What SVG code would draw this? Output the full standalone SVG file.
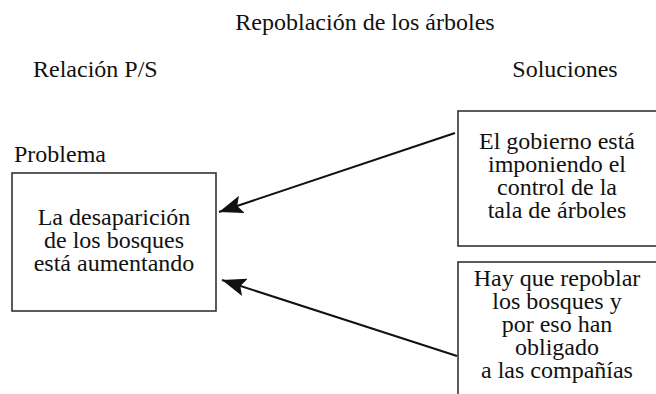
<svg xmlns="http://www.w3.org/2000/svg" width="656" height="394" viewBox="0 0 656 394">
<defs>
<style>
text{font-family:'Liberation Serif',serif;font-size:24px;fill:#111;}
.c{text-anchor:middle;}
.box{fill:none;stroke:#333;stroke-width:1.6;}
.conn{stroke:#111;stroke-width:2;fill:none;}
</style>
<marker id="ah" viewBox="0 0 10 10" refX="10" refY="5" markerWidth="24" markerHeight="18" markerUnits="userSpaceOnUse" orient="auto" preserveAspectRatio="none">
<path d="M0,0 L10,5 L0,10 L2,5 z" fill="#111"/>
</marker>
</defs>
<rect width="656" height="394" fill="#fff"/>
<g id="title"><text class="c" x="365" y="30">Repoblación de los árboles</text></g>
<g id="header-left"><text x="33" y="77">Relación P/S</text></g>
<g id="header-right"><text class="c" x="565" y="77">Soluciones</text></g>
<g id="problem">
<text x="14" y="162">Problema</text>
<rect class="box" x="12" y="173" width="204" height="138"/>
<text class="c" x="114" y="225">La desaparición</text>
<text class="c" x="114" y="248">de los bosques</text>
<text class="c" x="114" y="271">está aumentando</text>
</g>
<g id="solution1">
<rect class="box" x="458" y="111" width="210" height="135"/>
<text class="c" x="557" y="149">El gobierno está</text>
<text class="c" x="557" y="172">imponiendo el</text>
<text class="c" x="557" y="195">control de la</text>
<text class="c" x="557" y="218">tala de árboles</text>
</g>
<g id="solution2">
<rect class="box" x="458" y="262" width="210" height="150"/>
<text class="c" x="557" y="286">Hay que repoblar</text>
<text class="c" x="557" y="309">los bosques y</text>
<text class="c" x="557" y="332">por eso han</text>
<text class="c" x="557" y="355">obligado</text>
<text class="c" x="557" y="378">a las compañías</text>
</g>
<g id="connectors">
<path class="conn" d="M455,133 L219,212" marker-end="url(#ah)"/>
<path class="conn" d="M457,356 L222,280" marker-end="url(#ah)"/>
</g>
</svg>
